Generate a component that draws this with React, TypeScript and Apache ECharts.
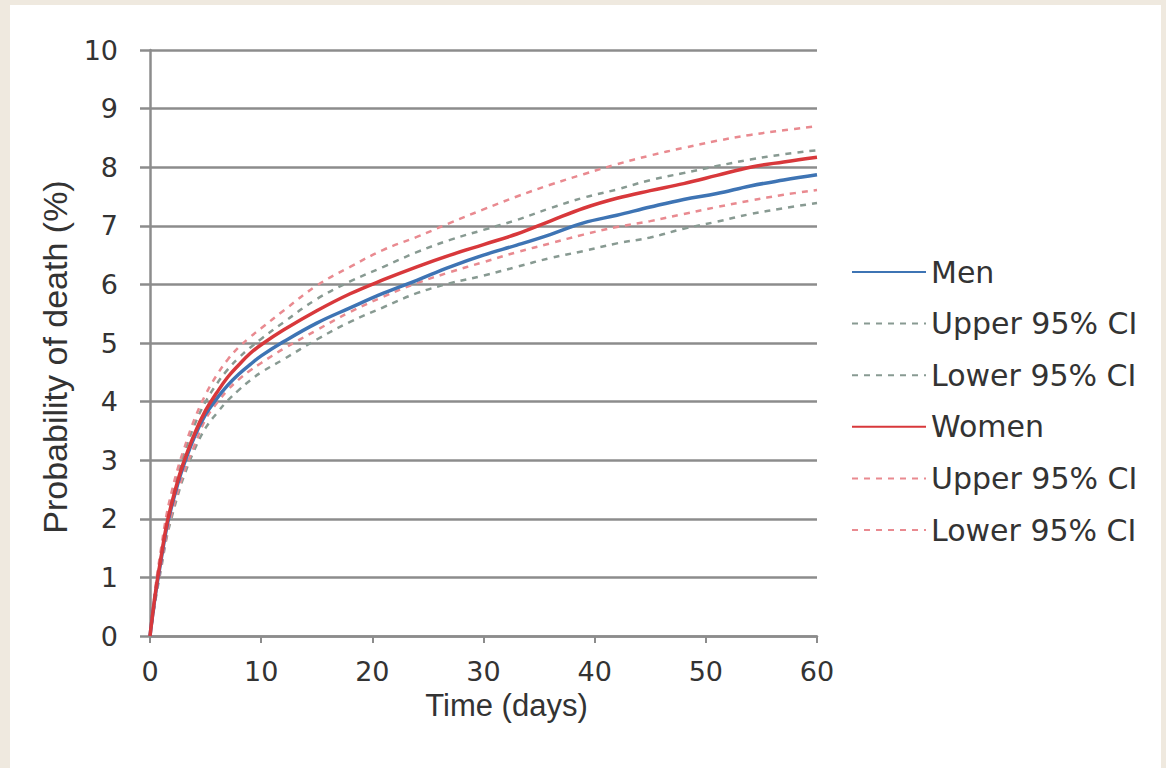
import React, { useEffect, useRef } from "react";
import * as echarts from "echarts";

const days = [0, 0.5, 1, 1.5, 2, 2.5, 3, 4, 5, 6, 7, 8, 9, 10, 12, 15, 18, 21, 24, 27, 30, 33, 36, 39, 42, 45, 48, 51, 54, 57, 60];
const men = [0, 0.72, 1.3, 1.85, 2.25, 2.6, 2.9, 3.4, 3.78, 4.05, 4.28, 4.47, 4.63, 4.78, 5.02, 5.34, 5.6, 5.85, 6.07, 6.3, 6.5, 6.67, 6.85, 7.05, 7.18, 7.32, 7.45, 7.55, 7.68, 7.78, 7.87];
const menUpper = [0, 0.8, 1.42, 2.0, 2.42, 2.78, 3.08, 3.6, 4.0, 4.3, 4.55, 4.75, 4.92, 5.07, 5.35, 5.75, 6.05, 6.3, 6.55, 6.76, 6.93, 7.1, 7.3, 7.48, 7.62, 7.78, 7.9, 8.02, 8.13, 8.22, 8.29];
const menLower = [0, 0.62, 1.15, 1.68, 2.06, 2.4, 2.7, 3.18, 3.55, 3.8, 4.02, 4.2, 4.36, 4.5, 4.72, 5.06, 5.36, 5.61, 5.85, 6.02, 6.15, 6.3, 6.45, 6.57, 6.7, 6.8, 6.95, 7.07, 7.2, 7.3, 7.39];
const women = [0, 0.75, 1.35, 1.9, 2.3, 2.65, 2.95, 3.45, 3.85, 4.15, 4.42, 4.63, 4.82, 4.97, 5.22, 5.55, 5.84, 6.08, 6.3, 6.5, 6.68, 6.86, 7.08, 7.3, 7.47, 7.6, 7.72, 7.86, 8.0, 8.09, 8.17];
const womenUpper = [0, 0.85, 1.5, 2.08, 2.5, 2.86, 3.16, 3.7, 4.12, 4.45, 4.72, 4.93, 5.1, 5.25, 5.55, 5.98, 6.3, 6.59, 6.81, 7.05, 7.28, 7.5, 7.7, 7.88, 8.05, 8.2, 8.33, 8.45, 8.55, 8.63, 8.7];
const womenLower = [0, 0.65, 1.2, 1.72, 2.12, 2.46, 2.76, 3.25, 3.7, 3.97, 4.2, 4.38, 4.53, 4.66, 4.9, 5.22, 5.53, 5.79, 6.02, 6.21, 6.38, 6.55, 6.7, 6.85, 6.98, 7.08, 7.2, 7.32, 7.43, 7.53, 7.61];

const seriesKeys = ["men", "menUpper", "menLower", "women", "womenUpper", "womenLower"];
const seriesLabels = ["Men", "Upper 95% CI", "Lower 95% CI", "Women", "Upper 95% CI", "Lower 95% CI"];

const pair = (vals: number[]) => days.map((d, i) => [d, vals[i]]);

export default function App() {
  const ref = useRef<HTMLDivElement>(null);
  useEffect(() => {
    if (!ref.current) return;
    const chart = echarts.init(ref.current, null, { renderer: "svg" });
    const BLUE = "#3e74b4";
    const RED = "#d8383b";
    const MCI = "#889a92";
    const WCI = "#e98a90";
    const labelMap: Record<string, string> = {};
    seriesKeys.forEach((k, i) => (labelMap[k] = seriesLabels[i]));
    const mk = (name: string, data: number[], color: string, dashed: boolean, z: number) => ({
      name,
      type: "line",
      data: pair(data),
      symbol: "none",
      smooth: 0.4,
      z,
      lineStyle: dashed
        ? { color, width: 2.5, type: [6, 6] }
        : { color, width: 3.5, type: "solid" },
      itemStyle: { color },
    });
    chart.setOption({
      animation: false,
      grid: { left: 150, right: 349, top: 50, bottom: 132 },
      legend: {
        orient: "vertical",
        left: 846,
        top: 249,
        itemWidth: 74,
        itemHeight: 14,
        itemGap: 15.6,
        data: seriesKeys,
        formatter: (n: string) => labelMap[n],
        itemStyle: { color: "rgba(0,0,0,0)", borderWidth: 0, opacity: 0 },
        textStyle: { fontFamily: "DejaVu Sans", fontSize: 30, color: "#333", lineHeight: 36 },
      },
      xAxis: {
        type: "value",
        min: 0,
        max: 60,
        interval: 10,
        name: "Time (days)",
        nameLocation: "middle",
        nameGap: 46,
        nameTextStyle: { fontFamily: "Liberation Sans", fontSize: 31, color: "#333", padding: [0, 0, 0, 46] },
        axisLine: { show: true, lineStyle: { color: "#8c8c8c", width: 2.5 } },
        axisTick: { show: true, length: 7, lineStyle: { color: "#8c8c8c", width: 2 } },
        axisLabel: { margin: 22, fontFamily: "DejaVu Sans", fontSize: 27, color: "#333" },
        splitLine: { show: false },
      },
      yAxis: {
        type: "value",
        min: 0,
        max: 10,
        interval: 1,
        name: "Probability of death (%)",
        nameLocation: "middle",
        nameGap: 78,
        nameTextStyle: { fontFamily: "Liberation Sans", fontSize: 34, color: "#333", padding: [0, 28, 0, 0] },
        axisLine: { show: true, lineStyle: { color: "#8c8c8c", width: 2.5 } },
        axisTick: { show: true, length: 10, lineStyle: { color: "#8c8c8c", width: 2.5 } },
        axisLabel: { margin: 32, fontFamily: "DejaVu Sans", fontSize: 27, color: "#333" },
        splitLine: { show: true, lineStyle: { color: "#8c8c8c", width: 2.5 } },
      },
      series: [
        mk("menUpper", menUpper, MCI, true, 2),
        mk("menLower", menLower, MCI, true, 2),
        mk("womenUpper", womenUpper, WCI, true, 2),
        mk("womenLower", womenLower, WCI, true, 2),
        mk("men", men, BLUE, false, 3),
        mk("women", women, RED, false, 4),
      ],
    });
    return () => chart.dispose();
  }, []);
  return (
    <div style={{ position: "fixed", left: 0, top: 0, width: 1166, height: 768, background: "#efe9df", overflow: "hidden" }}>
      <div style={{ position: "absolute", left: 10, top: 5, right: 5, bottom: 0, background: "#ffffff" }} />
      <div ref={ref} style={{ position: "absolute", left: 0, top: 0, width: 1166, height: 768 }} />
    </div>
  );
}
